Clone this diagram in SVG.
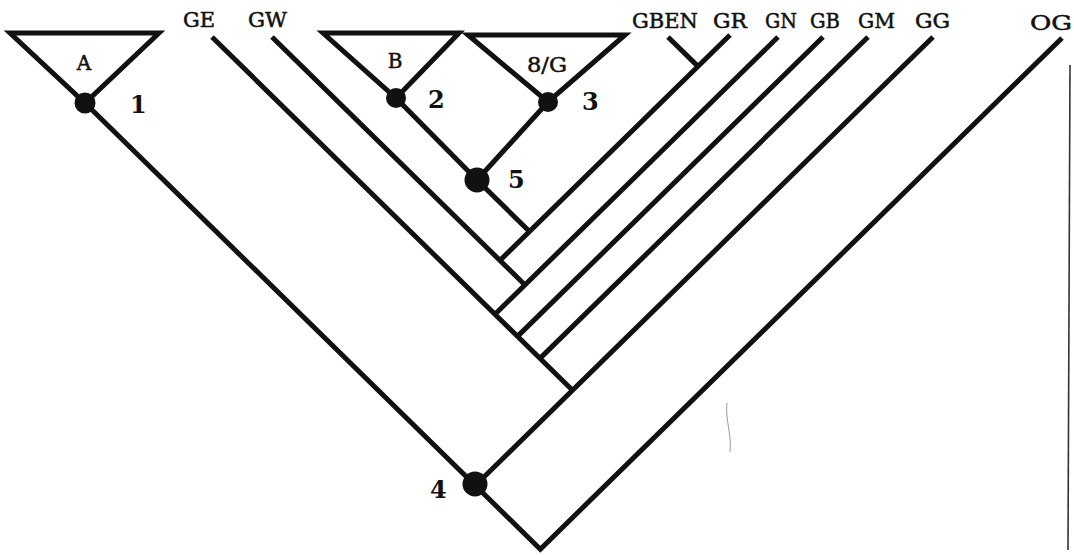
<svg xmlns="http://www.w3.org/2000/svg" width="1074" height="555" viewBox="0 0 1074 555">
<style>
.ln{stroke:#111;stroke-width:5;fill:none;stroke-linecap:butt;stroke-linejoin:miter}
.tri{stroke:#111;stroke-width:5;fill:#fff;stroke-linejoin:miter}
.dot{fill:#111}
.tx{font-family:"DejaVu Serif","Liberation Serif",serif;font-size:20px;fill:#111;stroke:#111;stroke-width:0.5}
.num{font-family:"DejaVu Serif","Liberation Serif",serif;font-size:24px;font-weight:bold;fill:#111}
</style>
<rect width="1074" height="555" fill="#fff"/>
<g id="connectors">
<line class="ln" x1="212" y1="37" x2="572.5" y2="390.3"/>
<line class="ln" x1="272" y1="37" x2="525" y2="285"/>
<line class="ln" x1="477" y1="180" x2="529.5" y2="231.5"/>
<line class="ln" x1="730" y1="35" x2="500" y2="260.4"/>
<line class="ln" x1="668" y1="37" x2="698" y2="66.4"/>
<line class="ln" x1="778" y1="37" x2="495" y2="314.3"/>
<line class="ln" x1="823" y1="37" x2="517.5" y2="336.4"/>
<line class="ln" x1="868" y1="37" x2="540" y2="358.4"/>
<line class="ln" x1="933" y1="37" x2="475.3" y2="485.5"/>
<polyline class="ln" points="85,103 540.3,549.2 1062,38"/>
<line class="ln" x1="396" y1="98" x2="477" y2="180"/>
<line class="ln" x1="548" y1="102" x2="477" y2="180"/>
<line x1="1070" y1="65" x2="1068" y2="550" stroke="#333" stroke-width="1.6"/>
<path d="M727,403 C725,420 732,435 730,452" stroke="#999" stroke-width="1" fill="none"/>
</g>
<g id="clade-A">
<polygon class="tri" points="10,33 159,33 85,103"/>
<text class="tx" x="84" y="70" text-anchor="middle">A</text>
</g>
<g id="clade-B">
<polygon class="tri" points="323,33 459,33 396,98"/>
<text class="tx" x="395" y="68" text-anchor="middle">B</text>
</g>
<g id="clade-SG">
<polygon class="tri" points="468,35 625,35 548,102"/>
<text class="tx" x="547" y="72" text-anchor="middle" textLength="40" lengthAdjust="spacingAndGlyphs">8/G</text>
</g>
<g id="node-1"><circle class="dot" cx="85" cy="103" r="10.5"/><text class="num" x="130" y="113">1</text></g>
<g id="node-2"><circle class="dot" cx="396" cy="98" r="10"/><text class="num" x="428" y="108">2</text></g>
<g id="node-3"><circle class="dot" cx="548" cy="102" r="10"/><text class="num" x="582" y="110">3</text></g>
<g id="node-5"><circle class="dot" cx="477" cy="180" r="12.5"/><text class="num" x="508" y="188">5</text></g>
<g id="node-4"><circle class="dot" cx="475" cy="484" r="12.5"/><text class="num" x="430" y="498">4</text></g>
<g id="taxa">
<text class="tx" x="183" y="27" textLength="32" lengthAdjust="spacingAndGlyphs">GE</text>
<text class="tx" x="248" y="27" textLength="39" lengthAdjust="spacingAndGlyphs">GW</text>
<text class="tx" x="632" y="28" textLength="66" lengthAdjust="spacingAndGlyphs">GBEN</text>
<text class="tx" x="713" y="28" textLength="34" lengthAdjust="spacingAndGlyphs">GR</text>
<text class="tx" x="765" y="28" textLength="32" lengthAdjust="spacingAndGlyphs">GN</text>
<text class="tx" x="810" y="28" textLength="30" lengthAdjust="spacingAndGlyphs">GB</text>
<text class="tx" x="858" y="28" textLength="37" lengthAdjust="spacingAndGlyphs">GM</text>
<text class="tx" x="915" y="28" textLength="35" lengthAdjust="spacingAndGlyphs">GG</text>
<text class="tx" x="1030" y="30" font-size="17" textLength="42" lengthAdjust="spacingAndGlyphs">OG</text>
</g>
</svg>
